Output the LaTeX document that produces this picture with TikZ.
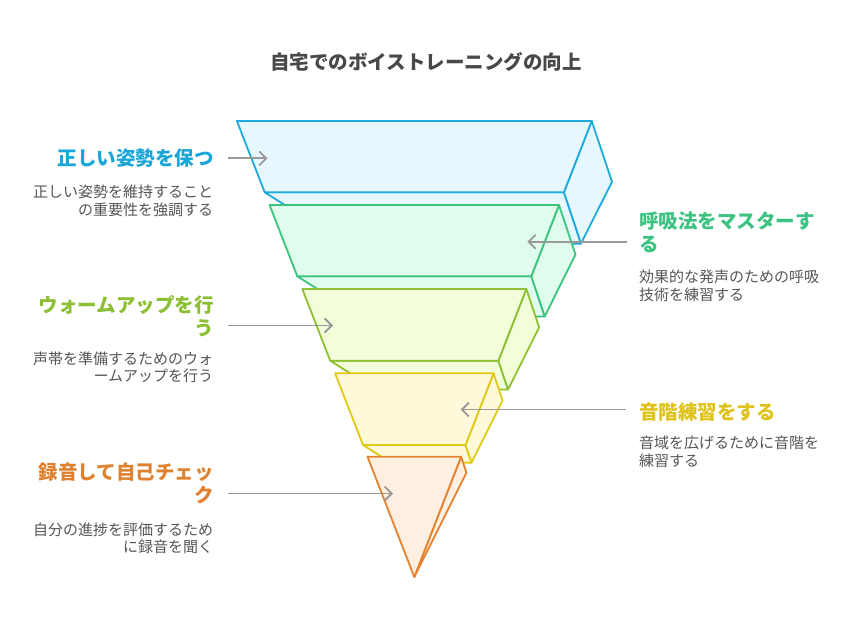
\documentclass[tikz,border=0pt]{standalone}
\usepackage{fontspec}
\setmainfont{Noto Sans CJK JP}
\usetikzlibrary{arrows.meta}
\definecolor{cBlueS}{HTML}{1EAADC}\definecolor{cBlueF}{HTML}{E6F8FE}\definecolor{cBlueT}{HTML}{1BA6D9}
\definecolor{cGreenS}{HTML}{3BC47D}\definecolor{cGreenF}{HTML}{E0FCED}\definecolor{cGreenT}{HTML}{3DC381}
\definecolor{cLimeS}{HTML}{8FBF33}\definecolor{cLimeF}{HTML}{F2FDDA}\definecolor{cLimeT}{HTML}{8CBF33}
\definecolor{cYelS}{HTML}{E2C914}\definecolor{cYelF}{HTML}{FFF9D9}\definecolor{cYelT}{HTML}{DFC31A}
\definecolor{cOrgS}{HTML}{E3822F}\definecolor{cOrgF}{HTML}{FFEFE1}\definecolor{cOrgT}{HTML}{E0812F}
\definecolor{cArrow}{HTML}{999999}
\definecolor{cDesc}{HTML}{555555}
\definecolor{cTitle}{HTML}{484848}
\begin{document}
\begin{tikzpicture}[x=1pt,y=-1pt,line join=round,
  face/.style={line width=1.8pt},
  conn/.style={draw=cArrow,line width=1.8pt,-{Straight Barb[length=7pt,width=14pt]}},
  lbl/.style={inner sep=0pt,font=\fontsize{19.5}{23}\selectfont\bfseries},
  desc/.style={inner sep=0pt,text=cDesc,font=\fontsize{15}{17.5}\selectfont},
  ttl/.style={inner sep=0pt,text=cTitle,font=\fontsize{19.5}{23}\selectfont\bfseries}]
\useasboundingbox (0,0) rectangle (854,626);
\fill[white] (0,0) rectangle (854,626);

% layer 1
\filldraw[face,draw=cBlueS,fill=cBlueF] (264.7,192.3) -- (563.9,192.3) -- (581.0,243.6) -- (345.8,243.6) -- cycle;
\filldraw[face,draw=cBlueS,fill=cBlueF] (591.7,121) -- (612.0,181.8) -- (581.0,243.6) -- (563.9,192.3) -- cycle;
\filldraw[face,draw=cBlueS,fill=cBlueF] (236.9,121) -- (591.7,121) -- (563.9,192.3) -- (264.7,192.3) -- cycle;
% layer 2
\filldraw[face,draw=cGreenS,fill=cGreenF] (297.3,276.3) -- (531.3,276.3) -- (544.7,316.4) -- (360.7,316.4) -- cycle;
\filldraw[face,draw=cGreenS,fill=cGreenF] (559.0,205) -- (575.5,254.6) -- (544.7,316.4) -- (531.3,276.3) -- cycle;
\filldraw[face,draw=cGreenS,fill=cGreenF] (269.6,205) -- (559.0,205) -- (531.3,276.3) -- (297.3,276.3) -- cycle;
% layer 3
\filldraw[face,draw=cLimeS,fill=cLimeF] (330.2,360.7) -- (498.4,360.7) -- (508.0,389.5) -- (375.7,389.5) -- cycle;
\filldraw[face,draw=cLimeS,fill=cLimeF] (526.3,289) -- (539.1,327.4) -- (508.0,389.5) -- (498.4,360.7) -- cycle;
\filldraw[face,draw=cLimeS,fill=cLimeF] (302.3,289) -- (526.3,289) -- (498.4,360.7) -- (330.2,360.7) -- cycle;
% layer 4
\filldraw[face,draw=cYelS,fill=cYelF] (363.0,445) -- (465.6,445) -- (471.5,462.6) -- (390.8,462.6) -- cycle;
\filldraw[face,draw=cYelS,fill=cYelF] (493.5,373.3) -- (502.6,400.5) -- (471.5,462.6) -- (465.6,445) -- cycle;
\filldraw[face,draw=cYelS,fill=cYelF] (335.1,373.3) -- (493.5,373.3) -- (465.6,445) -- (363.0,445) -- cycle;
% layer 5
\filldraw[face,draw=cOrgS,fill=cOrgF] (461.1,456.7) -- (466.4,472.7) -- (414.3,577) -- cycle;
\filldraw[face,draw=cOrgS,fill=cOrgF] (367.5,456.7) -- (461.1,456.7) -- (414.3,577) -- cycle;

% title
\node[ttl] (title) at (426,62.3) {自宅でのボイストレーニングの向上};

% left labels
\node[lbl,text=cBlueT,anchor=east] (l1) at (213.8,158.3) {正しい姿勢を保つ};
\node[desc,anchor=east,align=right] (d1) at (213.3,200.9) {正しい姿勢を維持すること\\の重要性を強調する};
\node[lbl,text=cLimeT,anchor=east,align=right] (l3) at (213.8,315.9) {ウォームアップを行\\う};
\node[desc,anchor=east,align=right] (d3) at (213.3,367.3) {声帯を準備するためのウォ\\ームアップを行う};
\node[lbl,text=cOrgT,anchor=east,align=right] (l5) at (213.8,483.3) {録音して自己チェッ\\ク};
\node[desc,anchor=east,align=right] (d5) at (213.3,538.3) {自分の進捗を評価するため\\に録音を聞く};

% right labels
\node[lbl,text=cGreenT,anchor=west,align=left] (l2) at (638.8,232) {呼吸法をマスターす\\る};
\node[desc,anchor=west,align=left] (d2) at (638.8,285.7) {効果的な発声のための呼吸\\技術を練習する};
\node[lbl,text=cYelT,anchor=west] (l4) at (638.8,411.7) {音階練習をする};
\node[desc,anchor=west,align=left] (d4) at (638.8,452) {音域を広げるために音階を\\練習する};

% connectors
\coordinate (s1) at (228.3,158.3); \coordinate (e1) at (267.5,158.3);
\coordinate (s3) at (228.3,325.5); \coordinate (e3) at (333,325.5);
\coordinate (s5) at (228.3,493.5); \coordinate (e5) at (393,493.5);
\coordinate (s2) at (627,241.7);   \coordinate (e2) at (527.3,241.7);
\coordinate (s4) at (626,409.5);   \coordinate (e4) at (460.7,409.5);
\draw[conn] (s1) -- (e1);
\draw[conn] (s3) -- (e3);
\draw[conn] (s5) -- (e5);
\draw[conn] (s2) -- (e2);
\draw[conn] (s4) -- (e4);
\end{tikzpicture}
\end{document}
